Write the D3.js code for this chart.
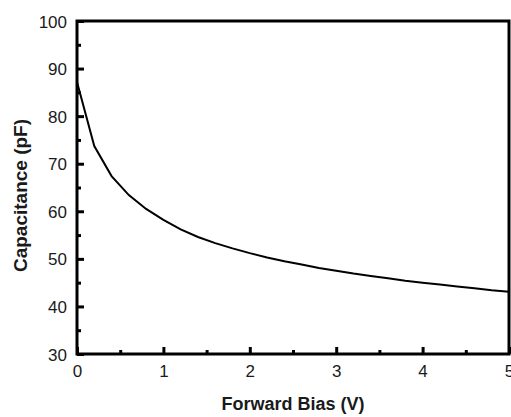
<!DOCTYPE html>
<html>
<head>
<meta charset="utf-8">
<script src="https://cdn.jsdelivr.net/npm/d3@7"></script>
<style>
  body { margin: 0; background: #fff; }
  svg text { font-family: "Liberation Sans", Arial, sans-serif; fill: #1a1a1a; }
</style>
</head>
<body>
<svg id="svg" width="511" height="417"></svg>
<script>
var svg = d3.select("#svg");

const width = 511;
const height = 417;

// forward bias (V) and capacitance (pF)
const bias = [0, 0.2, 0.4, 0.6, 0.8, 1.0, 1.2, 1.4, 1.6, 1.8, 2.0, 2.2, 2.4, 2.6,
              2.8, 3.0, 3.2, 3.4, 3.6, 3.8, 4.0, 4.2, 4.4, 4.6, 4.8, 5.0];
const capacitance = [87.2, 73.7, 67.4, 63.4, 60.5, 58.2, 56.2, 54.6, 53.3, 52.2,
                     51.2, 50.3, 49.5, 48.8, 48.1, 47.5, 46.9, 46.4, 45.9, 45.4,
                     45.0, 44.6, 44.2, 43.8, 43.4, 43.1];
const xTicks = [0, 1, 2, 3, 4, 5];
const yTicks = [30, 40, 50, 60, 70, 80, 90, 100];
const xMinorTicks = [0.5, 1.5, 2.5, 3.5, 4.5];
const yMinorTicks = [35, 45, 55, 65, 75, 85, 95];

const margin = {top: 21, left: 77, right: 2, bottom: 63};
const innerWidth = width - margin.left - margin.right;
const innerHeight = height - margin.top - margin.bottom;

const xScale = d3.scaleLinear().domain([0, 5]).range([0, innerWidth]);
const yScale = d3.scaleLinear().domain([30, 100]).range([innerHeight, 0]);

const g = svg.append('g')
    .attr('transform', `translate(${margin.left},${margin.top})`);

// minor ticks (no labels)
const xMinor = d3.axisBottom(xScale).tickValues(xMinorTicks).tickSize(-4).tickFormat('');
const yMinor = d3.axisLeft(yScale).tickValues(yMinorTicks).tickSize(-4).tickFormat('');

const xAxis = d3.axisBottom(xScale).tickValues(xTicks).tickSize(-7).tickPadding(11).tickFormat(d3.format('d'));
const yAxis = d3.axisLeft(yScale).tickValues(yTicks).tickSize(-7).tickPadding(10).tickFormat(d3.format('d'));

[xMinor, xAxis].forEach(ax => {
  const a = g.append('g').attr('transform', `translate(0,${innerHeight})`).call(ax);
  a.select('.domain').remove();
  a.selectAll('.tick line').attr('stroke', '#000').attr('stroke-width', 3);
  a.selectAll('text').attr('font-size', 17);
});
[yMinor, yAxis].forEach(ax => {
  const a = g.append('g').call(ax);
  a.select('.domain').remove();
  a.selectAll('.tick line').attr('stroke', '#000').attr('stroke-width', 3);
  a.selectAll('text').attr('font-size', 17).attr('dy', '0.36em');
});
g.selectAll('.tick text').filter(function() { return this.textContent === ''; }).remove();

// frame
g.append('rect')
  .attr('width', innerWidth)
  .attr('height', innerHeight)
  .attr('fill', 'none')
  .attr('stroke', '#000')
  .attr('stroke-width', 3);

const line = d3.line()
  .x((d, i) => xScale(bias[i]))
  .y(d => yScale(d));

g.append('path')
  .datum(capacitance)
  .attr('d', line)
  .attr('fill', 'none')
  .attr('stroke', '#000')
  .attr('stroke-width', 2);

g.append('text')
  .attr('x', innerWidth / 2)
  .attr('y', innerHeight + 56)
  .attr('text-anchor', 'middle')
  .attr('font-size', 18)
  .attr('font-weight', 'bold')
  .text('Forward Bias (V)');

g.append('text')
  .attr('transform', `translate(${-50},${innerHeight / 2 + 8}) rotate(-90)`)
  .attr('text-anchor', 'middle')
  .attr('font-size', 19)
  .attr('font-weight', 'bold')
  .text('Capacitance (pF)');
</script>
</body>
</html>
